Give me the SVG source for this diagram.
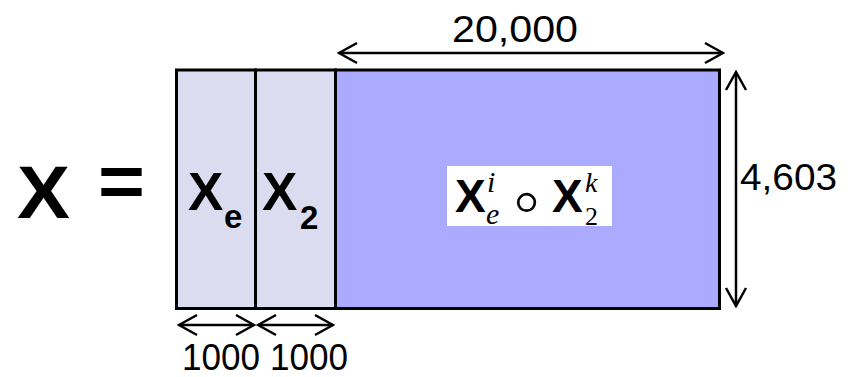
<svg xmlns="http://www.w3.org/2000/svg" width="850" height="377" viewBox="0 0 850 377">
<style>
.box{stroke:#000;stroke-width:3}
.light{fill:#dcdcf0}
.blue{fill:#aaaaff}
.bold{font-family:"Liberation Sans",Arial,sans-serif;font-weight:bold;fill:#000}
.num{font-family:"Liberation Sans",Arial,sans-serif;font-size:37px;fill:#000}
.math{font-family:"Liberation Serif","Times New Roman",serif;font-style:italic;fill:#000}
.arr{stroke:#000;stroke-width:2.5;fill:none;marker-start:url(#ah);marker-end:url(#ah)}
</style>
<defs>
<marker id="ah" markerUnits="userSpaceOnUse" viewBox="-20 -12 22 24" refX="0" refY="0" markerWidth="22" markerHeight="24" orient="auto-start-reverse">
<path d="M-18,-10 L0,0 L-18,10" fill="none" stroke="#000" stroke-width="2.5"/>
</marker>
</defs>
<g id="lhs">
<text class="bold" x="17" y="218" font-size="75" textLength="53" lengthAdjust="spacingAndGlyphs">X</text>
<text class="bold" x="98" y="207" font-size="75" textLength="47" lengthAdjust="spacingAndGlyphs">=</text>
</g>
<g id="Xe">
<rect class="box light" x="176.5" y="70" width="79" height="238.5"/>
<text class="bold" x="188" y="210" font-size="53">X</text>
<text class="bold" x="224" y="228" font-size="33">e</text>
</g>
<g id="X2">
<rect class="box light" x="255.5" y="70" width="80" height="238.5"/>
<text class="bold" x="262" y="210" font-size="53">X</text>
<text class="bold" x="300" y="229" font-size="33">2</text>
</g>
<g id="prod">
<rect class="box blue" x="335.5" y="70" width="384" height="238.5"/>
<rect x="447" y="166" width="165" height="60" fill="#fff"/>
<text class="bold" x="455" y="212" font-size="46">X</text>
<text class="math" x="487" y="192" font-size="30">i</text>
<text class="math" x="486" y="224" font-size="30">e</text>
<text x="504" y="225" font-family="DejaVu Sans,sans-serif" font-weight="200" font-size="72" fill="#000">∘</text>
<text class="bold" x="552" y="212" font-size="46">X</text>
<text class="math" x="585" y="192" font-size="28">k</text>
<text x="585" y="225" font-family="Liberation Serif,serif" font-size="26" fill="#000">2</text>
</g>
<g id="connectors">
<line class="arr" x1="339" y1="53" x2="723" y2="53"/>
<line class="arr" x1="736" y1="72" x2="736" y2="306"/>
<line class="arr" x1="179" y1="325" x2="254" y2="325"/>
<line class="arr" x1="258" y1="325" x2="333" y2="325"/>
</g>
<g id="labels">
<text class="num" x="452" y="42" textLength="126" lengthAdjust="spacingAndGlyphs">20,000</text>
<text class="num" x="740" y="190" textLength="97" lengthAdjust="spacingAndGlyphs">4,603</text>
<text class="num" x="182" y="370" font-size="36" textLength="166" lengthAdjust="spacingAndGlyphs">1000 1000</text>
</g>
</svg>
